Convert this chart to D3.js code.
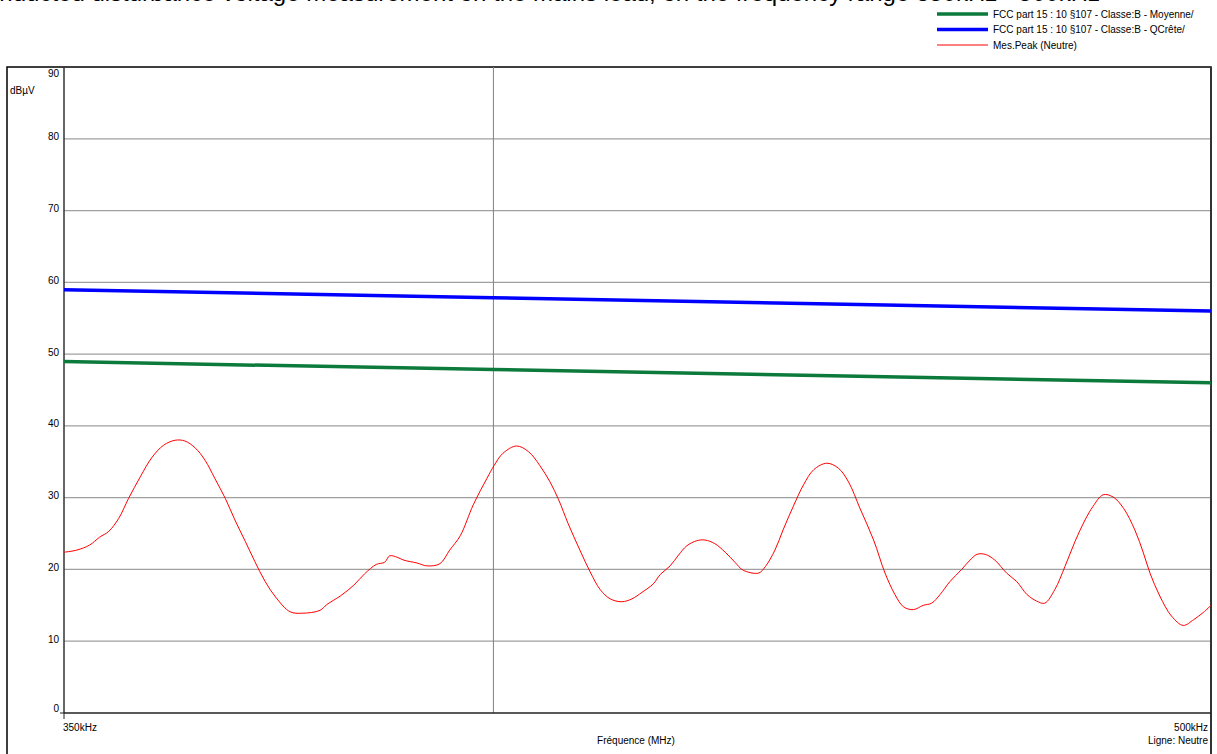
<!DOCTYPE html>
<html lang="fr">

<head>
  <meta charset="UTF-8">
  <title>FCC part 15 - Mesure conduite</title>
  <script src="https://d3js.org/d3.v7.min.js"></script>
  <style>
    body { margin: 0; background: #fff; }
    svg { display: block; font-family: "Liberation Sans", Arial, sans-serif; }
  </style>
</head>

<body>
  <div id="chart"></div>

  <script>
    // limit lines (FCC part 15, class B)
    const limitFreq = [350, 400, 450, 500];
    const avgLimit = [48.96, 47.85, 46.88, 46.0];
    const qpLimit = [58.96, 57.85, 56.88, 56.0];

    // measured peak, neutral line (kHz / dBµV)
    const peakFreq = [350.0, 351.4, 352.8, 353.9, 354.9, 356.0, 357.1, 358.4, 359.7, 361.0,
      362.3, 363.4, 364.6, 365.7, 366.8, 368.0, 369.1, 370.3, 371.4, 372.6,
      373.9, 375.5, 376.9, 379.0, 379.8, 381.4, 383.0, 384.3, 385.7, 386.7,
      387.3, 388.2, 389.0, 390.6, 391.8, 393.4, 394.6, 395.9, 397.5, 399.2,
      400.1, 401.2, 402.9, 404.4, 405.8, 407.1, 408.2, 409.4, 410.9, 412.2,
      413.5, 414.8, 416.3, 417.6, 418.9, 420.4, 421.3, 422.6, 423.7, 424.8,
      426.1, 427.2, 428.5, 429.9, 431.2, 432.3, 434.4, 435.3, 436.6, 437.7,
      439.1, 440.5, 441.9, 443.7, 445.3, 446.7, 448.3, 450.2, 451.8, 453.2,
      454.4, 455.8, 457.2, 458.4, 459.6, 461.0, 462.7, 463.9, 464.9, 466.1,
      467.5, 469.2, 470.7, 472.2, 473.6, 474.8, 476.3, 477.8, 479.3, 480.8,
      482.0, 483.5, 485.0, 486.6, 488.3, 489.6, 490.6, 492.1, 493.9, 495.7,
      497.3, 498.8, 500.0];
    const peakDb = [22.4, 22.7, 23.4, 24.5, 25.3, 27.1, 29.9, 32.9, 35.6, 37.3,
      38.0, 37.9, 36.9, 35.2, 32.7, 29.9, 26.9, 23.9, 21.1, 18.3,
      16.0, 14.1, 13.9, 14.3, 15.1, 16.3, 17.8, 19.4, 20.7, 21.0,
      21.9, 21.7, 21.3, 20.9, 20.5, 20.8, 22.7, 24.7, 29.0, 32.7,
      34.5, 36.2, 37.2, 36.4, 34.5, 32.2, 29.7, 26.4, 22.7, 19.7,
      17.2, 15.9, 15.5, 15.9, 16.8, 18.0, 19.3, 20.5, 22.0, 23.3,
      24.0, 24.1, 23.6, 22.4, 21.0, 19.9, 19.5, 20.4, 22.7, 25.5,
      28.8, 31.8, 33.9, 34.8, 34.1, 32.2, 28.5, 24.1, 19.5, 16.5,
      14.8, 14.4, 15.0, 15.3, 16.5, 18.3, 20.0, 21.3, 22.1, 22.1,
      21.3, 19.5, 18.3, 16.5, 15.6, 15.3, 17.2, 20.4, 23.9, 26.9,
      28.8, 30.4, 30.1, 28.5, 25.5, 22.3, 19.5, 16.3, 13.5, 12.2,
      13.0, 14.0, 15.0];

    const yTicks = [0, 10, 20, 30, 40, 50, 60, 70, 80, 90];
    const xGrid = [400];

    const series = [
      { name: "FCC part 15 : 10 §107 - Classe:B - Moyenne/", color: "#0b7a3b", width: 3.5 },
      { name: "FCC part 15 : 10 §107 - Classe:B - QCrête/", color: "#0000ff", width: 3.5 },
      { name: "Mes.Peak (Neutre)", color: "#ff0000", width: 1 }
    ];

    const W = 1217, H = 754;
    const plot = { left: 64, right: 1211, top: 67, bottom: 713 };

    const svg = d3.select("#chart").append("svg")
      .attr("width", W)
      .attr("height", H);

    const x = d3.scaleLog().domain([350, 500]).range([plot.left, plot.right]);
    const y = d3.scaleLinear().domain([0, 90]).range([plot.bottom, plot.top]);

    // title, cut by the top of the page like in the original print
    svg.append("text")
      .attr("x", 1100)
      .attr("y", 1)
      .attr("text-anchor", "end")
      .attr("font-size", 24)
      .attr("fill", "#000")
      .text("Conducted disturbance voltage measurement on the mains lead, on the frequency range 350kHz - 500kHz");

    // legend
    const legend = svg.selectAll(".legend")
      .data(series)
      .enter().append("g")
      .attr("class", "legend")
      .attr("transform", (d, i) => `translate(937, ${14 + i * 15.5})`);
    legend.append("line")
      .attr("x1", 0).attr("x2", 51)
      .attr("stroke", d => d.color)
      .attr("stroke-width", d => d.width);
    legend.append("text")
      .attr("x", 56)
      .attr("dy", "0.35em")
      .attr("font-size", 10)
      .text(d => d.name);

    // frame
    svg.append("rect")
      .attr("x", 7).attr("y", 67)
      .attr("width", 1204).attr("height", 720)
      .attr("fill", "none")
      .attr("stroke", "#000")
      .attr("stroke-width", 1.5);

    // grid
    svg.selectAll(".hgrid")
      .data(yTicks.filter(d => d > 0 && d < 90))
      .enter().append("line")
      .attr("class", "hgrid")
      .attr("x1", plot.left).attr("x2", plot.right)
      .attr("y1", d => y(d)).attr("y2", d => y(d))
      .attr("stroke", "#a0a0a0")
      .attr("stroke-width", 1.2);
    svg.selectAll(".vgrid")
      .data(xGrid)
      .enter().append("line")
      .attr("class", "vgrid")
      .attr("x1", d => x(d)).attr("x2", d => x(d))
      .attr("y1", plot.top).attr("y2", plot.bottom)
      .attr("stroke", "#808080")
      .attr("stroke-width", 1);

    // y tick labels
    svg.selectAll(".ylab")
      .data(yTicks)
      .enter().append("text")
      .attr("class", "ylab")
      .attr("x", 59)
      .attr("y", d => d === 90 ? y(d) + 10 : d === 0 ? y(d) - 1.5 : y(d) + 1.5)
      .attr("text-anchor", "end")
      .attr("font-size", 10)
      .text(d => d);
    svg.append("text")
      .attr("x", 10).attr("y", 94)
      .attr("font-size", 10)
      .text("dBµV");

    // axes lines
    svg.append("line")
      .attr("x1", plot.left).attr("x2", plot.left)
      .attr("y1", plot.top).attr("y2", plot.bottom)
      .attr("stroke", "#333").attr("stroke-width", 1.5);
    svg.append("line")
      .attr("x1", plot.right).attr("x2", plot.right)
      .attr("y1", plot.top).attr("y2", H)
      .attr("stroke", "#333").attr("stroke-width", 2);
    svg.append("line")
      .attr("x1", plot.left).attr("x2", plot.right)
      .attr("y1", plot.bottom).attr("y2", plot.bottom)
      .attr("stroke", "#222").attr("stroke-width", 1.5);
    // ticks at origin
    svg.append("line")
      .attr("x1", x(350)).attr("x2", x(350))
      .attr("y1", plot.bottom).attr("y2", plot.bottom + 6)
      .attr("stroke", "#222");
    svg.append("line")
      .attr("x1", plot.left - 4).attr("x2", plot.left)
      .attr("y1", y(0)).attr("y2", y(0))
      .attr("stroke", "#222");

    // x labels
    svg.append("text")
      .attr("x", x(350) - 1).attr("y", 731)
      .attr("font-size", 10)
      .text("350kHz");
    svg.append("text")
      .attr("x", x(500) - 3).attr("y", 731)
      .attr("text-anchor", "end")
      .attr("font-size", 10)
      .text("500kHz");
    svg.append("text")
      .attr("x", 636).attr("y", 744)
      .attr("text-anchor", "middle")
      .attr("font-size", 10)
      .text("Fréquence (MHz)");
    svg.append("text")
      .attr("x", x(500) - 3).attr("y", 744)
      .attr("text-anchor", "end")
      .attr("font-size", 10)
      .text("Ligne: Neutre");

    // curves
    const line = d3.line().x(d => x(d[0])).y(d => y(d[1]));
    const smooth = d3.line().x(d => x(d[0])).y(d => y(d[1])).curve(d3.curveCatmullRom.alpha(0.5));
    const avgData = limitFreq.map((f, i) => [f, avgLimit[i]]);
    const qpData = limitFreq.map((f, i) => [f, qpLimit[i]]);
    const peakData = peakFreq.map((f, i) => [f, peakDb[i]]);

    [avgData, qpData, peakData].forEach((data, i) => {
      svg.append("path")
        .datum(data)
        .attr("fill", "none")
        .attr("stroke", series[i].color)
        .attr("stroke-width", series[i].width)
        .attr("stroke-linejoin", "round")
        .attr("d", i === 2 ? smooth : line);
    });
  </script>
</body>

</html>
